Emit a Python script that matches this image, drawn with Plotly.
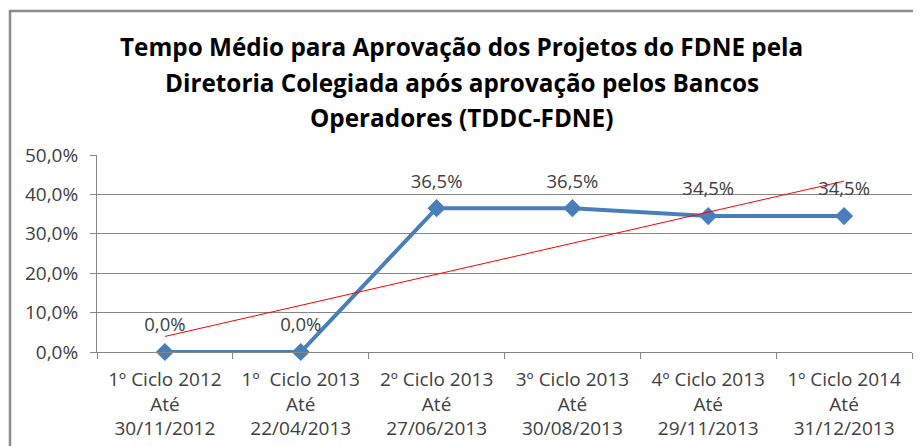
import numpy as np
import plotly.graph_objects as go

categories = [
    "1º Ciclo 2012<br>Até<br>30/11/2012",
    "1º  Ciclo 2013<br>Até<br>22/04/2013",
    "2º Ciclo 2013<br>Até<br>27/06/2013",
    "3º Ciclo 2013<br>Até<br>30/08/2013",
    "4º Ciclo 2013<br>Até<br>29/11/2013",
    "1º Ciclo 2014<br>Até<br>31/12/2013",
]
values = [0.0, 0.0, 0.365, 0.365, 0.345, 0.345]
labels = ["0,0%", "0,0%", "36,5%", "36,5%", "34,5%", "34,5%"]
title_lines = [
    "Tempo Médio para Aprovação dos Projetos do FDNE pela",
    "Diretoria Colegiada após aprovação pelos Bancos",
    "Operadores (TDDC-FDNE)",
]
y_ticks = [0, 0.1, 0.2, 0.3, 0.4, 0.5]

# linear trend line (as in the original spreadsheet)
xi = np.arange(1, len(values) + 1)
slope, intercept = np.polyfit(xi, values, 1)
trend = list(slope * xi + intercept)

FONT = "Open Sans"
W, H = 913, 438
L, R, T, B = 89, 9, 147, 94
ph = H - T - B
pw = W - L - R

fig = go.Figure()
fig.add_trace(go.Scatter(
    x=categories, y=values, mode="lines+markers",
    line=dict(color="#4A7EBB", width=4),
    marker=dict(symbol="diamond", size=14, color="#4A7EBB"),
    cliponaxis=False, showlegend=False, hoverinfo="skip",
))
fig.add_trace(go.Scatter(
    x=categories, y=trend, mode="lines",
    line=dict(color="#FF0000", width=1),
    cliponaxis=False, showlegend=False,
))
# data labels (drawn on top)
fig.add_trace(go.Scatter(
    x=categories, y=values, mode="markers+text",
    marker=dict(size=24, color="rgba(0,0,0,0)"),
    text=labels, textposition="top center",
    textfont=dict(family=FONT, size=18.5, color="#404040"),
    cliponaxis=False, showlegend=False,
))

def py(pix):
    return (H - B - pix) / ph

def px(pix):
    return (pix - L) / pw

for line, ypix in zip(title_lines, [39, 74, 109]):
    fig.add_annotation(
        text="<b>%s</b>" % line, xref="paper", yref="paper",
        x=px(453.5), y=py(ypix), xanchor="center", yanchor="middle",
        showarrow=False, font=dict(family=FONT, size=24.3, color="#000000"),
    )

fig.add_shape(type="rect", xref="paper", yref="paper",
              x0=px(2), y0=py(520), x1=px(1000), y1=py(3),
              line=dict(color="#8C8C8C", width=2.5), layer="below")

fig.update_layout(
    width=W, height=H,
    margin=dict(l=L, r=R, t=T, b=B, autoexpand=False),
    paper_bgcolor="white", plot_bgcolor="white",
    separators=",.",
    font=dict(family=FONT, size=16, color="#404040"),
    xaxis=dict(
        type="category", tickson="boundaries", ticks="outside", ticklen=6,
        tickcolor="#868686", showline=True, linecolor="#868686", linewidth=1,
        showgrid=False, tickfont=dict(family=FONT, size=19, color="#404040"),
        ticklabelstandoff=10, range=[-0.5, 5.5],
    ),
    yaxis=dict(
        range=[0, 0.5], tickvals=y_ticks, tickformat=".1%",
        ticks="outside", ticklen=6, tickcolor="#868686",
        showline=True, linecolor="#868686", linewidth=1,
        showgrid=True, gridcolor="#868686", gridwidth=1, zeroline=False,
        tickfont=dict(family=FONT, size=19, color="#404040"),
        ticklabelstandoff=8,
    ),
)

fig.write_html("out.html")
